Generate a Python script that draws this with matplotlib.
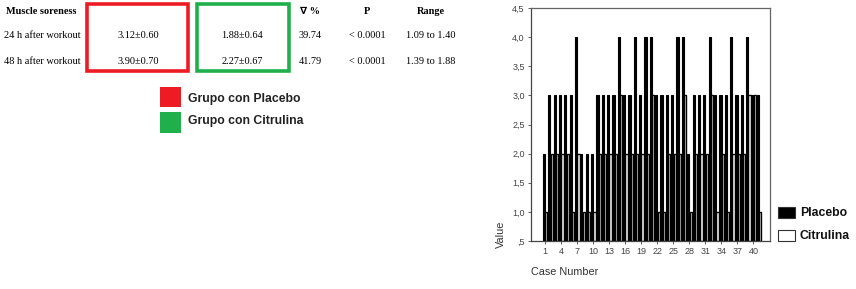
import matplotlib
matplotlib.use("Agg")
import matplotlib.pyplot as plt
from matplotlib.patches import Rectangle
import numpy as np

# ---- data ----
cases = list(range(1, 42))
placebo = [2, 3, 3, 3, 3, 3, 4, 2, 2, 2,
           3, 3, 3, 3, 4, 3, 3, 4, 3, 4,
           4, 3, 3, 3, 3, 4, 4, 2, 3, 3,
           3, 4, 3, 3, 3, 4, 3, 3, 4, 3,
           3]
citrulina = [1, 2, 2, 2, 2, 1, 2, 1, 1, 1,
             2, 2, 2, 2, 3, 2, 2, 2, 2, 2,
             3, 1, 1, 2, 2, 2, 3, 1, 2, 2,
             2, 3, 1, 2, 1, 2, 2, 2, 3, 3,
             1]
xtick_cases = list(range(1, 42, 3))
ytick_vals = [0.5, 1.0, 1.5, 2.0, 2.5, 3.0, 3.5, 4.0, 4.5]
ytick_labels = [",5", "1,0", "1,5", "2,0", "2,5", "3,0", "3,5", "4,0", "4,5"]

table_rows = ["24 h after workout", "48 h after workout"]
table_placebo = ["3.12±0.60", "3.90±0.70"]
table_citrulina = ["1.88±0.64", "2.27±0.67"]
table_delta = ["39.74", "41.79"]
table_p = ["< 0.0001", "< 0.0001"]
table_range = ["1.09 to 1.40", "1.39 to 1.88"]

W, H = 856, 289
fig = plt.figure(figsize=(W / 100, H / 100), dpi=100)

def fx(px):
    return px / W

def fy(py):
    return 1 - py / H

RED = "#ed1c24"
GREEN = "#1fb04b"
serif = "Liberation Serif"
sans = "Liberation Sans"

# ---- table ----
fs_t = 7.4
fig.text(fx(6), fy(12), "Muscle soreness", family=serif, weight="bold", fontsize=fs_t, va="center")
fig.text(fx(310), fy(12), "∇ %", family=[serif, "DejaVu Sans"], weight="bold", fontsize=fs_t, va="center", ha="center")
fig.text(fx(367), fy(12), "P", family=serif, weight="bold", fontsize=fs_t, va="center", ha="center")
fig.text(fx(431), fy(12), "Range", family=serif, weight="bold", fontsize=fs_t, va="center", ha="center")
row_y = [36, 61]
for i in range(2):
    y = fy(row_y[i])
    fig.text(fx(4), y, table_rows[i], family=serif, fontsize=fs_t, va="center")
    fig.text(fx(138), y, table_placebo[i], family=serif, fontsize=fs_t, va="center", ha="center")
    fig.text(fx(242), y, table_citrulina[i], family=serif, fontsize=fs_t, va="center", ha="center")
    fig.text(fx(310), y, table_delta[i], family=serif, fontsize=fs_t, va="center", ha="center")
    fig.text(fx(367), y, table_p[i], family=serif, fontsize=fs_t, va="center", ha="center")
    fig.text(fx(431), y, table_range[i], family=serif, fontsize=fs_t, va="center", ha="center")

fig.patches.append(Rectangle((fx(87), fy(71)), fx(188) - fx(87), fy(4) - fy(71),
                             transform=fig.transFigure, fill=False, edgecolor=RED, linewidth=2.6))
fig.patches.append(Rectangle((fx(197), fy(71)), fx(289) - fx(197), fy(4) - fy(71),
                             transform=fig.transFigure, fill=False, edgecolor=GREEN, linewidth=2.6))

# color legend
fig.patches.append(Rectangle((fx(160), fy(107)), fx(181) - fx(160), fy(87) - fy(107),
                             transform=fig.transFigure, facecolor=RED, edgecolor="none"))
fig.patches.append(Rectangle((fx(160), fy(133)), fx(181) - fx(160), fy(112) - fy(133),
                             transform=fig.transFigure, facecolor=GREEN, edgecolor="none"))
fig.text(fx(188), fy(99), "Grupo con Placebo", family=sans, weight="bold", fontsize=8.8, va="center", color="#222222")
fig.text(fx(188), fy(121), "Grupo con Citrulina", family=sans, weight="bold", fontsize=8.8, va="center", color="#222222")

# ---- bar chart ----
ax = fig.add_axes([fx(531), fy(241), fx(770) - fx(531), fy(8) - fy(241)])
x = np.array(cases, dtype=float)
w = 0.42
ax.bar(x - 0.18, np.array(placebo) - 0.5, bottom=0.5, width=w,
       color="black", edgecolor="black", linewidth=0.8, zorder=2)
ax.bar(x + 0.27, np.array(citrulina) - 0.5, bottom=0.5, width=w,
       color="white", edgecolor="black", linewidth=1.0, zorder=1)
ax.set_xlim(-1.6, 43.1)
ax.set_ylim(0.5, 4.5)
ax.set_yticks(ytick_vals)
ax.set_yticklabels(ytick_labels)
ax.set_xticks(xtick_cases)
ax.set_xticklabels([str(c) for c in xtick_cases])
ax.tick_params(axis="both", labelsize=6.5, colors="#444444", length=2.5, width=0.6, pad=2,
               labelfontfamily=sans)
for s in ax.spines.values():
    s.set_color("#666666")
    s.set_linewidth(0.9)
ax.spines["left"].set_color("#444444")
ax.spines["bottom"].set_color("#444444")

fig.text(fx(501), fy(234), "Value", family=sans, fontsize=7.8, rotation=90, va="center", ha="center", color="#333333")
fig.text(fx(531), fy(272), "Case Number", family=sans, fontsize=7.8, va="center", ha="left", color="#333333")

# series legend
fig.patches.append(Rectangle((fx(778), fy(218)), fx(795) - fx(778), fy(207) - fy(218),
                             transform=fig.transFigure, facecolor="black", edgecolor="#333333", linewidth=0.8))
fig.patches.append(Rectangle((fx(778), fy(241)), fx(795) - fx(778), fy(230) - fy(241),
                             transform=fig.transFigure, facecolor="white", edgecolor="#333333", linewidth=0.8))
fig.text(fx(800), fy(213), "Placebo", family=sans, weight="bold", fontsize=8.8, va="center", color="#111111")
fig.text(fx(800), fy(236), "Citrulina", family=sans, weight="bold", fontsize=8.8, va="center", color="#111111")

fig.savefig("out.png", dpi=100)
